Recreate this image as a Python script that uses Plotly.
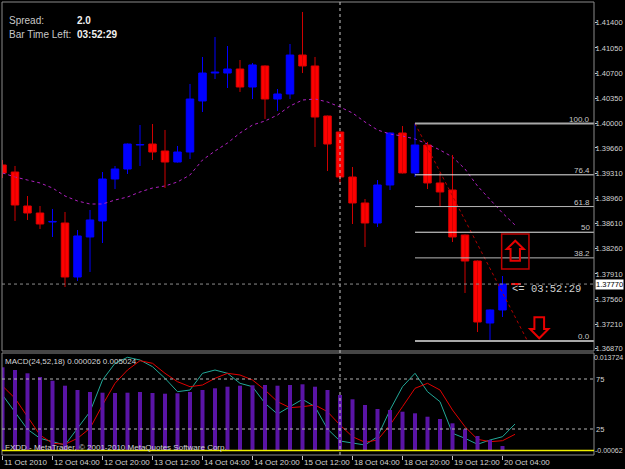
import plotly.graph_objects as go

# ---------------- data ----------------
x_tick_pos = [0, 4, 8, 12, 16, 20, 24, 28, 32, 36, 40]
x_tick_labels = ["11 Oct 2010", "12 Oct 04:00", "12 Oct 20:00", "13 Oct 12:00",
                 "14 Oct 04:00", "14 Oct 20:00", "15 Oct 12:00", "18 Oct 04:00",
                 "18 Oct 20:00", "19 Oct 12:00", "20 Oct 04:00"]

open_ = [1.39424, 1.39326, 1.38854, 1.38757, 1.38632, 1.38618, 1.37868, 1.38424, 1.38646, 1.39229,
         1.39368, 1.39701, 1.39715, 1.39618, 1.39465, 1.39604, 1.40313, 1.40701, 1.40701, 1.40757,
         1.40507, 1.40799, 1.40340, 1.40410, 1.40951, 1.40799, 1.40104, 1.39882, 1.39257, 1.38896,
         1.38618, 1.39146, 1.39868, 1.39313, 1.39701, 1.39174, 1.39076, 1.38451, 1.38090, 1.37229,
         1.37410]
high = [1.39493, 1.39410, 1.38993, 1.38854, 1.38813, 1.38771, 1.38521, 1.38799, 1.39326, 1.39410,
        1.39722, 1.39979, 1.39993, 1.39910, 1.39688, 1.40549, 1.40924, 1.41201, 1.41076, 1.40882,
        1.40840, 1.40806, 1.40479, 1.41104, 1.41549, 1.40924, 1.40110, 1.39890, 1.39396, 1.38951,
        1.39215, 1.39875, 1.39965, 1.40000, 1.39743, 1.39313, 1.39563, 1.38458, 1.38097, 1.37417,
        1.37882]
low = [1.39243, 1.38646, 1.38660, 1.38535, 1.38424, 1.37729, 1.37813, 1.37938, 1.38340, 1.39090,
       1.39299, 1.39410, 1.39493, 1.39104, 1.39458, 1.39507, 1.40160, 1.40618, 1.40493, 1.40438,
       1.40340, 1.40063, 1.40174, 1.40340, 1.40701, 1.39674, 1.39340, 1.39174, 1.38604, 1.38285,
       1.38563, 1.39076, 1.39306, 1.39257, 1.39090, 1.38840, 1.38354, 1.37646, 1.37104, 1.36980,
       1.37313]
close = [1.39313, 1.38868, 1.38757, 1.38604, 1.38640, 1.37868, 1.38438, 1.38660, 1.39229, 1.39368,
         1.39715, 1.39708, 1.39604, 1.39465, 1.39604, 1.40340, 1.40701, 1.40715, 1.40757, 1.40507,
         1.40813, 1.40340, 1.40410, 1.40951, 1.40799, 1.40090, 1.39715, 1.39257, 1.38896, 1.38618,
         1.39146, 1.39868, 1.39313, 1.39701, 1.39174, 1.39049, 1.38424, 1.38090, 1.37243, 1.37410,
         1.37770]

# moving average (drawn one bar ahead)
ma = [1.39313, 1.39257, 1.39215, 1.39174, 1.39104, 1.38993, 1.38924, 1.38882, 1.38882, 1.38937,
      1.38979, 1.39049, 1.39104, 1.39132, 1.39188, 1.39285, 1.39493, 1.39618, 1.39729, 1.39868,
      1.39979, 1.40035, 1.40118, 1.40243, 1.40326, 1.40340, 1.40299, 1.40229, 1.40146, 1.40021,
      1.39910, 1.39854, 1.39826, 1.39785, 1.39715, 1.39632, 1.39535, 1.39368, 1.39132, 1.38937,
      1.38757, 1.38590]

macd_hist = [0.012083, 0.011690, 0.011211, 0.010674, 0.010136, 0.009410, 0.008786, 0.008495,
             0.008394, 0.008350, 0.008394, 0.008495, 0.008350, 0.008249, 0.008307, 0.008495,
             0.008786, 0.009033, 0.009265, 0.009410, 0.009468, 0.009512, 0.009410, 0.009512,
             0.009614, 0.009265, 0.008786, 0.008060, 0.007435, 0.006608, 0.006027, 0.005881,
             0.005635, 0.005402, 0.004908, 0.004574, 0.003950, 0.003079, 0.002106, 0.001525,
             0.000653]

stoch_main = [59, 42.3, 24.7, 15.7, 12.3, 9, 25.7, 42.3, 74, 90.7, 96.7, 94, 87.3, 75.7, 62.3, 64,
              80.7, 84, 80.7, 70.7, 67.3, 50.7, 40, 47.3, 54.7, 47.3, 25, 13, 10.7, 9, 17.3, 44,
              67.3, 80.7, 62.3, 52.3, 20.7, 15.7, 9.7, 14, 17.3, 30]
stoch_signal = [68, 55.7, 37.3, 19, 10.7, 9.7, 15.7, 25.7, 49, 70.7, 84, 93.3, 90.7, 80.7, 72.3,
                67.3, 69, 75.7, 80.7, 79, 74, 64, 52.3, 46.3, 47.3, 49, 42.3, 29, 17.3, 11.7, 14,
                29, 47.3, 65.7, 70.7, 64, 44, 27.3, 14.7, 12.3, 13.3, 19.7]

price_tick_vals = [1.41400, 1.41050, 1.40700, 1.40350, 1.40000, 1.39660, 1.39310, 1.38960,
                   1.38610, 1.38260, 1.37910, 1.37560, 1.37210, 1.36870]
price_tick_text = ["1.41400", "1.41050", "1.40700", "1.40350", "1.40000", "1.39660", "1.39310",
                   "1.38960", "1.38610", "1.38260", "1.37910", "1.37560", "1.37210", "1.36870"]

fib_levels = [100.0, 76.4, 61.8, 50.0, 38.2, 0.0]
fib_labels = ["100.0", "76.4", "61.8", "50", "38.2", "0.0"]
fib_start_bar = 33
fib_end_bar = 42
sub_levels = [75, 25]
separator_bar = 27
spread_text = "2.0"
time_left = "03:52:29"
macd_title = "MACD(24,52,18) 0.000026 0.005024"
macd_max_label = "0.013724"
macd_min_label = "-0.00062"

# ---------------- layout geometry ----------------
W, H = 625, 469
ML, MR, MT, MB = 2, 31, 2, 14
PLOT_W = W - ML - MR
PLOT_H = H - MT - MB


def paper_x(px):
    return (px - ML) / PLOT_W


def paper_y(py):
    return (H - MB - py) / PLOT_H


XMIN, XMAX = -0.04, 47.32
PMIN, PMAX = 1.368403, 1.416875
MAIN_DOM = [paper_y(351), 1.0]
SUB_DOM = [0.0, paper_y(353)]
STOCH_RANGE = [-1, 101]
MACD_RANGE = [-0.000653, 0.014159]
PX_PER_K = PLOT_W / (XMAX - XMIN)
PX_PER_P = (351 - 2) / (PMAX - PMIN)

BG = "#000000"
BLUE = "#0000FF"
RED = "#FF0000"
TXT = "#D4D4D4"
FONT = "Liberation Sans"
AX_SIZE = 7.5

n = len(close)
bars = list(range(n))

fig = go.Figure()

# MACD histogram
fig.add_trace(go.Bar(x=bars, y=macd_hist, xaxis="x2", yaxis="y3", width=0.32,
                     marker=dict(color="#5A14A6", line=dict(width=0)), hoverinfo="skip"))
# stochastic lines
fig.add_trace(go.Scatter(x=list(range(len(stoch_main))), y=stoch_main, xaxis="x2", yaxis="y2",
                         mode="lines", line=dict(color="#22A898", width=1), hoverinfo="skip"))
fig.add_trace(go.Scatter(x=list(range(len(stoch_signal))), y=stoch_signal, xaxis="x2", yaxis="y2",
                         mode="lines", line=dict(color="#E00000", width=1), hoverinfo="skip"))

# moving average
fig.add_trace(go.Scatter(x=list(range(len(ma))), y=ma, mode="lines",
                         line=dict(color="#B020C0", width=1, dash="dot"), hoverinfo="skip"))

# wicks
for up, col in ((True, BLUE), (False, "#D00000")):
    wx, wy = [], []
    for i in bars:
        if (close[i] >= open_[i]) == up:
            wx += [i, i, None]
            wy += [low[i], high[i], None]
    fig.add_trace(go.Scatter(x=wx, y=wy, mode="lines", line=dict(color=col, width=1),
                             hoverinfo="skip"))

# bodies
body_base = [min(o, c) for o, c in zip(open_, close)]
body_h = [abs(c - o) for o, c in zip(open_, close)]
body_col = [BLUE if c >= o else RED for o, c in zip(open_, close)]
body_line = [BLUE if c >= o else "#E00000" for o, c in zip(open_, close)]
fig.add_trace(go.Bar(x=bars, y=body_h, base=body_base, width=0.6,
                     marker=dict(color=body_col, line=dict(color=body_line, width=1)),
                     hoverinfo="skip"))

# fibonacci
fib_hi = high[fib_start_bar]
fib_lo = min(low)
fib_prices = [fib_lo + (fib_hi - fib_lo) * lv / 100.0 for lv in fib_levels]
fig.add_trace(go.Scatter(x=[fib_start_bar, fib_end_bar], y=[fib_hi, fib_lo], mode="lines",
                         line=dict(color="#B00000", width=1, dash="dot"), hoverinfo="skip"))

shapes = []
for lv, p in zip(fib_levels, fib_prices):
    strong = lv in (100.0, 0.0)
    shapes.append(dict(type="line", xref="x", yref="y", x0=fib_start_bar, x1=XMAX, y0=p, y1=p,
                       line=dict(color="#A8A8A8" if strong else ("#E8E8E8" if lv in (76.4, 50.0) else "#B8B8B8"),
                                 width=2 if strong else 1)))

# panel frames
shapes.append(dict(type="rect", xref="paper", yref="paper", x0=0, x1=1, y0=MAIN_DOM[0], y1=1,
                   line=dict(color="#8A8A8A", width=1)))
shapes.append(dict(type="rect", xref="paper", yref="paper", x0=0, x1=1, y0=0, y1=SUB_DOM[1],
                   line=dict(color="#8A8A8A", width=1)))
# separator vertical line
shapes.append(dict(type="line", xref="x", yref="paper", x0=separator_bar, x1=separator_bar,
                   y0=0, y1=1, line=dict(color="#C8C8C8", width=1, dash="3px,3px")))
# current price line
shapes.append(dict(type="line", xref="paper", yref="y", x0=0, x1=1, y0=close[-1], y1=close[-1],
                   line=dict(color="#8C8C8C", width=1, dash="dot")))
# sub window levels
for lv in sub_levels:
    shapes.append(dict(type="line", xref="paper", yref="y2", x0=0, x1=1, y0=lv, y1=lv,
                       line=dict(color="#B4B4B4", width=1, dash="3px,3px")))
shapes.append(dict(type="line", xref="paper", yref="y3", x0=0, x1=1, y0=0, y1=0,
                   line=dict(color="#F0F000", width=1.5)))


def px_path(cx, cy, pts):
    parts = []
    for j, (dx, dy) in enumerate(pts):
        xx = cx + dx / PX_PER_K
        yy = cy - dy / PX_PER_P
        parts.append(("M" if j == 0 else "L") + f"{xx:.4f},{yy:.6f}")
    return " ".join(parts) + " Z"


up_c = (n - 1 + 1.02, 1.38233)
dn_c = (n - 1 + 2.94, 1.37164)
up_pts = [(0, -10), (8.5, -1.7), (4.7, -1.7), (4.7, 10), (-4.7, 10), (-4.7, -1.7), (-8.5, -1.7)]
dn_pts = [(-4.85, -10.4), (4.85, -10.4), (4.85, 1.3), (9.15, 1.3), (0, 10.6), (-9.15, 1.3), (-4.85, 1.3)]
box_pts = [(-13.6, -16.7), (13.7, -16.7), (13.7, 18.3), (-13.6, 18.3)]
shapes.append(dict(type="path", xref="x", yref="y", path=px_path(*up_c, box_pts),
                   line=dict(color="#C00000", width=1.5)))
shapes.append(dict(type="path", xref="x", yref="y", path=px_path(*up_c, up_pts),
                   line=dict(color="#E80000", width=2)))
shapes.append(dict(type="path", xref="x", yref="y", path=px_path(*dn_c, dn_pts),
                   line=dict(color="#E80000", width=2)))

# small red dash near the last price
fig.add_trace(go.Scatter(x=[n - 1 + 1.08], y=[close[-1]], mode="markers",
                         marker=dict(symbol="line-ew", size=7, line=dict(color=RED, width=2)),
                         hoverinfo="skip"))

ann = []
ann.append(dict(text="Spread:", xref="paper", yref="paper", x=paper_x(7), y=paper_y(21),
                xanchor="left", yanchor="middle", showarrow=False,
                font=dict(family=FONT, size=10, color="#C8C8C8")))
ann.append(dict(text="<b>" + spread_text + "</b>", xref="paper", yref="paper", x=paper_x(75),
                y=paper_y(21), xanchor="left", yanchor="middle", showarrow=False,
                font=dict(family=FONT, size=10, color="#F0F0F0")))
ann.append(dict(text="Bar Time Left:", xref="paper", yref="paper", x=paper_x(7), y=paper_y(34),
                xanchor="left", yanchor="middle", showarrow=False,
                font=dict(family=FONT, size=10, color="#C8C8C8")))
ann.append(dict(text="<b>" + time_left + "</b>", xref="paper", yref="paper", x=paper_x(75),
                y=paper_y(34), xanchor="left", yanchor="middle", showarrow=False,
                font=dict(family=FONT, size=10, color="#F0F0F0")))
ann.append(dict(text=macd_title, xref="paper", yref="paper", x=paper_x(3), y=paper_y(361),
                xanchor="left", yanchor="middle", showarrow=False,
                font=dict(family=FONT, size=8, color=TXT)))
ann.append(dict(text="FXDD - MetaTrader, © 2001-2010 MetaQuotes Software Corp.", xref="paper",
                yref="paper", x=paper_x(3), y=paper_y(447), xanchor="left", yanchor="middle",
                showarrow=False, font=dict(family=FONT, size=8, color=TXT)))
for pos, lab in zip(x_tick_pos, x_tick_labels):
    ann.append(dict(text=lab, xref="x2", yref="paper", x=pos, y=paper_y(462), xanchor="left",
                    yanchor="middle", xshift=-1, showarrow=False,
                    font=dict(family=FONT, size=8, color=TXT)))
for lab, py in (("75", 379), ("25", 429)):
    ann.append(dict(text=lab, xref="paper", yref="paper", x=paper_x(594), y=paper_y(py),
                    xanchor="left", yanchor="middle", showarrow=False,
                    font=dict(family=FONT, size=AX_SIZE, color=TXT)))
for lab, py in ((macd_max_label, 357), (macd_min_label, 450)):
    ann.append(dict(text=lab, xref="paper", yref="paper", x=paper_x(625), y=paper_y(py),
                    xanchor="right", yanchor="middle", showarrow=False,
                    font=dict(family=FONT, size=7, color=TXT)))
for lab, p in zip(fib_labels, fib_prices):
    ann.append(dict(text=lab, xref="paper", yref="y", x=paper_x(592), y=p, xanchor="right",
                    yanchor="bottom", yshift=-2, showarrow=False,
                    font=dict(family=FONT, size=8, color="#C8C8C8")))
ann.append(dict(text=f"{close[-1]:.5f}", xref="paper", yref="y", x=paper_x(595), y=close[-1],
                xanchor="left", yanchor="middle", showarrow=False, bgcolor="#FFFFFF",
                borderpad=0, font=dict(family=FONT, size=AX_SIZE, color="#000000")))
ann.append(dict(text="<= " + time_left, xref="x", yref="y", x=n - 1 + 0.6, y=close[-1],
                yshift=-5, xanchor="left", yanchor="middle", showarrow=False,
                font=dict(family="Liberation Mono", size=10.5, color="#D0D0D0")))

fig.update_layout(
    width=W, height=H, margin=dict(l=ML, r=MR, t=MT, b=MB, autoexpand=False),
    paper_bgcolor=BG, plot_bgcolor=BG, showlegend=False, barmode="overlay",
    hovermode=False, shapes=shapes, annotations=ann,
    xaxis=dict(domain=[0, 1], range=[XMIN, XMAX], anchor="y", showticklabels=False,
               showgrid=False, zeroline=False, ticks="", automargin=False),
    xaxis2=dict(domain=[0, 1], range=[XMIN, XMAX], anchor="y2", matches="x", showgrid=False,
                zeroline=False, showticklabels=False, tickmode="array", tickvals=x_tick_pos,
                ticks="outside", ticklen=4, tickcolor="#C8C8C8", tickwidth=1, automargin=False),
    yaxis=dict(domain=MAIN_DOM, range=[PMIN, PMAX], anchor="x", side="right", showgrid=False,
               zeroline=False, tickmode="array", tickvals=price_tick_vals, ticktext=price_tick_text,
               ticks="outside", ticklen=2, tickcolor="#C8C8C8", automargin=False,
               ticklabelstandoff=-3,
               tickfont=dict(family=FONT, size=AX_SIZE, color=TXT)),
    yaxis2=dict(domain=SUB_DOM, range=STOCH_RANGE, anchor="x2", visible=False, automargin=False),
    yaxis3=dict(domain=SUB_DOM, range=MACD_RANGE, overlaying="y2", anchor="x2", visible=False,
                automargin=False),
)

fig.write_html("out.html", config={"displayModeBar": False})
